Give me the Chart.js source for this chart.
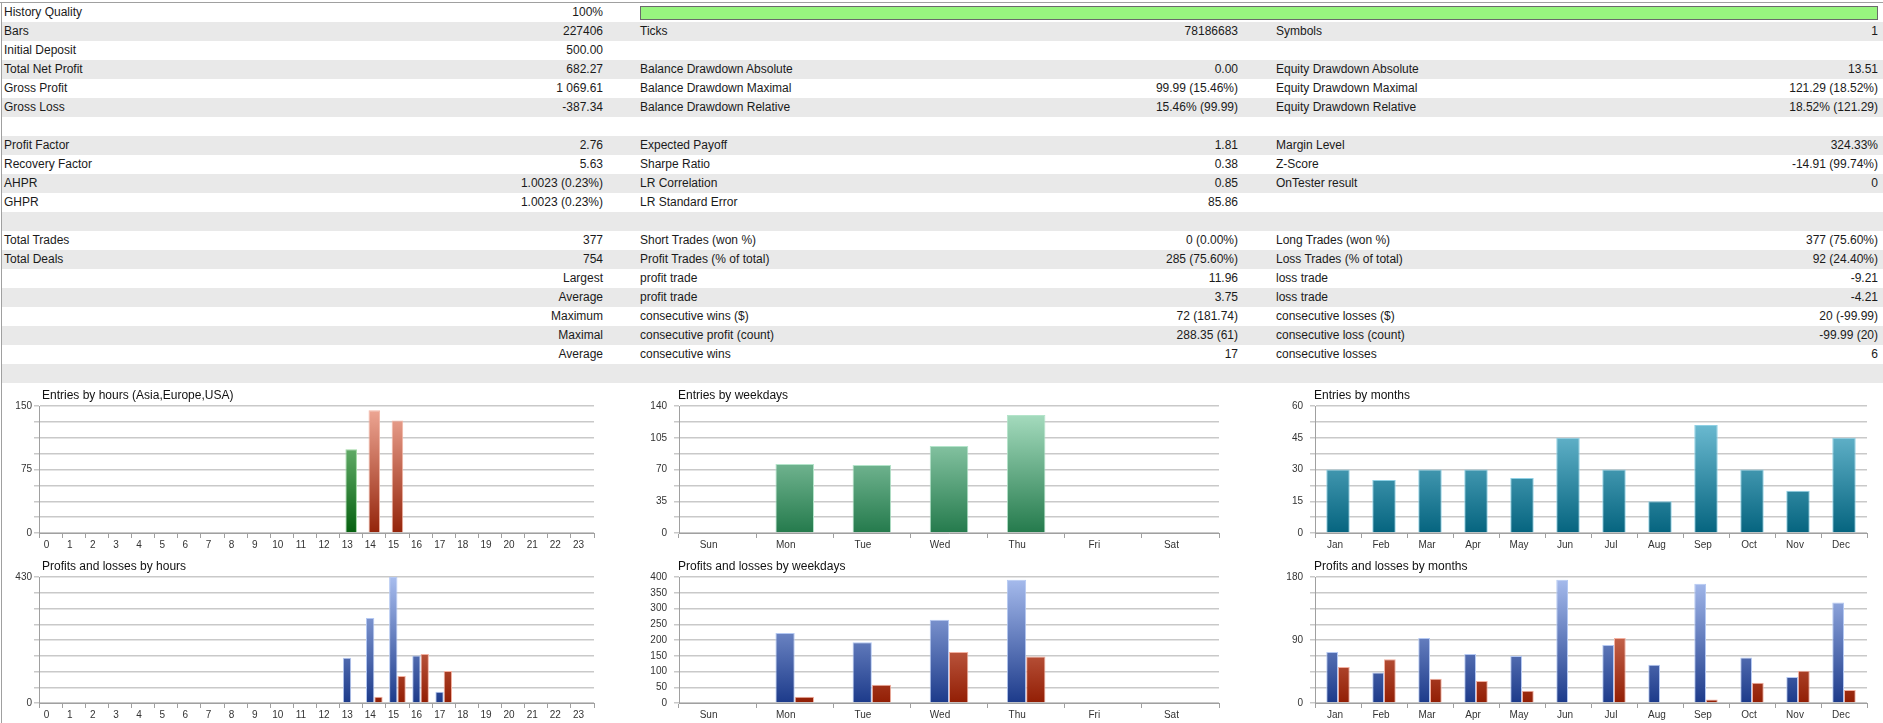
<!DOCTYPE html>
<html>
<head>
<meta charset="utf-8">
<title>Relatório do testador</title>
<script src="https://cdn.jsdelivr.net/npm/chart.js@4.4.1/dist/chart.umd.min.js"></script>
<style>
  body { margin: 0; width: 1883px; height: 723px; overflow: hidden; background: #fff; position: relative;
         font-family: "Liberation Sans", Arial, sans-serif; font-size: 12px; color: #1a1a1a; }
  #borda-topo { position: absolute; left: 0; top: 2px; width: 1883px; height: 1px; background: #a0a0a0; }
  #borda-esq { position: absolute; left: 1px; top: 2px; width: 1px; height: 721px; background: #a0a0a0; }
  .linha { position: absolute; left: 2px; width: 1881px; height: 19px; }
  .linha.cinza { background: #e9e9e9; }
  .cel { position: absolute; top: 0; line-height: 19px; white-space: nowrap; }
  .dir { text-align: right; }
  #qualidade { position: absolute; left: 640px; top: 6px; width: 1236px; height: 12px; background: #98f57f; border: 1px solid #6a6a6a; }
  canvas { position: absolute; }
</style>
</head>
<body>
<div id="tabela"></div>
<div id="borda-topo"></div>
<div id="borda-esq"></div>

<canvas id="grafico-entradas-horas"></canvas>
<canvas id="grafico-entradas-dias"></canvas>
<canvas id="grafico-entradas-meses"></canvas>
<canvas id="grafico-lucro-horas"></canvas>
<canvas id="grafico-lucro-dias"></canvas>
<canvas id="grafico-lucro-meses"></canvas>

<script>
const horas = ['0','1','2','3','4','5','6','7','8','9','10','11','12','13','14','15','16','17','18','19','20','21','22','23'];
const diasSemana = ['Sun','Mon','Tue','Wed','Thu','Fri','Sat'];
const meses = ['Jan','Feb','Mar','Apr','May','Jun','Jul','Aug','Sep','Oct','Nov','Dec'];

const entradasHoras = [0,0,0,0,0,0,0,0,0,0,0,0,0,99,145,133,0,0,0,0,0,0,0,0];
const entradasDias = [0,76,75,96,130,0,0];
const entradasMeses = [30,25,30,30,26,45,30,15,51,30,20,45];

const lucroHoras = [0,0,0,0,0,0,0,0,0,0,0,0,0,154,290,430,162,38,0,0,0,0,0,0];
const perdaHoras = [0,0,0,0,0,0,0,0,0,0,0,0,0,0,21,92,167,109,0,0,0,0,0,0];
const lucroDias = [0,222,193,264,391,0,0];
const perdaDias = [0,20,58,162,148,0,0];
const lucroMeses = [73,43.5,93,70,67,176,83,54.5,170.5,65,37,143.5];
const perdaMeses = [51.5,62.5,34.5,31.5,17.5,0,93,0,5,29,46,18.5];

// eixos: máximo e rótulos mostrados
const maxY = { entradasHoras: 150, entradasDias: 140, entradasMeses: 60, lucroHoras: 430, lucroDias: 400, lucroMeses: 180 };
const rotulosEntradasHoras = [0, 75, 150];
const rotulosEntradasDias = [0, 35, 70, 105, 140];
const rotulosEntradasMeses = [0, 15, 30, 45, 60];
const rotulosLucroHoras = [0, 430];
const rotulosLucroDias = [0, 50, 100, 150, 200, 250, 300, 350, 400];
const rotulosLucroMeses = [0, 90, 180];

// tabela de estatísticas
const linhasTabela = [
  ['History Quality', '100%', null],
  ['Bars', '227406', 'Ticks', '78186683', 'Symbols', '1'],
  ['Initial Deposit', '500.00', '', '', '', ''],
  ['Total Net Profit', '682.27', 'Balance Drawdown Absolute', '0.00', 'Equity Drawdown Absolute', '13.51'],
  ['Gross Profit', '1 069.61', 'Balance Drawdown Maximal', '99.99 (15.46%)', 'Equity Drawdown Maximal', '121.29 (18.52%)'],
  ['Gross Loss', '-387.34', 'Balance Drawdown Relative', '15.46% (99.99)', 'Equity Drawdown Relative', '18.52% (121.29)'],
  ['', '', '', '', '', ''],
  ['Profit Factor', '2.76', 'Expected Payoff', '1.81', 'Margin Level', '324.33%'],
  ['Recovery Factor', '5.63', 'Sharpe Ratio', '0.38', 'Z-Score', '-14.91 (99.74%)'],
  ['AHPR', '1.0023 (0.23%)', 'LR Correlation', '0.85', 'OnTester result', '0'],
  ['GHPR', '1.0023 (0.23%)', 'LR Standard Error', '85.86', '', ''],
  ['', '', '', '', '', ''],
  ['Total Trades', '377', 'Short Trades (won %)', '0 (0.00%)', 'Long Trades (won %)', '377 (75.60%)'],
  ['Total Deals', '754', 'Profit Trades (% of total)', '285 (75.60%)', 'Loss Trades (% of total)', '92 (24.40%)'],
  ['', 'Largest', 'profit trade', '11.96', 'loss trade', '-9.21'],
  ['', 'Average', 'profit trade', '3.75', 'loss trade', '-4.21'],
  ['', 'Maximum', 'consecutive wins ($)', '72 (181.74)', 'consecutive losses ($)', '20 (-99.99)'],
  ['', 'Maximal', 'consecutive profit (count)', '288.35 (61)', 'consecutive loss (count)', '-99.99 (20)'],
  ['', 'Average', 'consecutive wins', '17', 'consecutive losses', '6'],
  ['', '', '', '', '', '']
];

// colunas: [left, width, alinhar à direita]
const colunas = [[2, 300, false], [298, 303, true], [638, 300, false], [1000, 236, true], [1274, 300, false], [1600, 276, true]];

const tabela = document.getElementById('tabela');
linhasTabela.forEach(function(linha, i) {
  const div = document.createElement('div');
  div.className = 'linha' + (i % 2 === 1 ? ' cinza' : '');
  div.style.top = (3 + i * 19) + 'px';
  linha.forEach(function(txt, j) {
    if (txt === null) {
      const barra = document.createElement('div');
      barra.id = 'qualidade';
      barra.style.left = '638px';
      barra.style.top = '3px';
      div.appendChild(barra);
      return;
    }
    if (!txt) return;
    const c = colunas[j];
    const cel = document.createElement('div');
    cel.className = 'cel' + (c[2] ? ' dir' : '');
    cel.style.left = c[0] + 'px';
    cel.style.width = c[1] + 'px';
    cel.textContent = txt;
    div.appendChild(cel);
  });
  tabela.appendChild(div);
});

// ---- gráficos ----
const fonte = '"Liberation Sans", Arial, sans-serif';

function gradiente(ctx, escuro, claro) {
  const area = ctx.chart.chartArea;
  if (!area) return escuro;
  const g = ctx.chart.ctx.createLinearGradient(0, area.bottom, 0, area.top);
  g.addColorStop(0, escuro);
  g.addColorStop(1, claro);
  return g;
}

// cores por sessão (Ásia, Europa, EUA)
function sessao(h) {
  if (h >= 14) return 'eua';
  if (h >= 8) return 'europa';
  return 'asia';
}
const coresSessao = {
  asia: ['#1e3c8c', '#a4b8ea', '#b4c6f0'],
  europa: ['#05600f', '#8fd093', '#9fd8a3'],
  eua: ['#94240a', '#f0aa98', '#f2b6a6']
};
const azul = ['#1c3a8a', '#a8bdee', '#b4c8f2'];
const vermelho = ['#921e04', '#f0a08a', '#f2b0a0'];
const verde = ['#247a4c', '#aee2c6', '#b4e4ca'];
const turquesa = ['#05647f', '#7cc8de', '#8ed0e4'];

const tituloPlugin = {
  id: 'tituloMT',
  afterDraw(chart, args, opts) {
    const c = chart.ctx, a = chart.chartArea;
    c.save();
    c.font = '12px ' + fonte;
    c.fillStyle = '#111';
    c.textBaseline = 'middle';
    c.textAlign = 'left';
    c.fillText(opts.texto, a.left + opts.dx, a.top - 10);
    c.restore();
  }
};

function escalas(yMax, rotulos, deslocRotulo, padY) {
  return {
    x: {
      offset: true,
      grid: { display: true, drawOnChartArea: false, drawTicks: true, tickLength: 5, color: '#a0a0a0', offset: true },
      border: { display: true, color: '#a0a0a0' },
      ticks: { color: '#333', font: { size: 10, family: fonte }, padding: 1, labelOffset: deslocRotulo, autoSkip: false, maxRotation: 0 },
      afterFit: function(s) { s.height = 20; }
    },
    y: {
      min: 0,
      max: yMax,
      grid: { color: '#c9c9c9', lineWidth: 1.5, tickLength: 5 },
      border: { display: true, color: '#a0a0a0' },
      ticks: {
        stepSize: yMax / 8,
        autoSkip: false,
        color: '#333',
        font: { size: 10, family: fonte },
        padding: padY,
        callback: function(v) {
          return rotulos.some(r => Math.abs(r - v) < 1e-6) ? String(v) : '';
        }
      },
      afterFit: function(s) { s.width = 40; }
    }
  };
}

// area = retângulo da área de plotagem na página
function criarGrafico(id, area, titulo, dxTitulo, labels, datasets, yMax, rotulos, deslocRotulo, padY) {
  const canvas = document.getElementById(id);
  const w = area.r - area.l + 50;
  const h = area.b - area.t + 24 + 20;
  canvas.width = w;
  canvas.height = h;
  canvas.style.left = (area.l - 40) + 'px';
  canvas.style.top = (area.t - 24) + 'px';
  return new Chart(canvas.getContext('2d'), {
    type: 'bar',
    data: { labels: labels, datasets: datasets },
    options: {
      responsive: false,
      animation: false,
      devicePixelRatio: 1,
      layout: { padding: { top: 24, right: 10, left: 0, bottom: 0 } },
      plugins: { legend: { display: false }, tooltip: { enabled: false }, tituloMT: { texto: titulo, dx: dxTitulo } },
      scales: escalas(yMax, rotulos, deslocRotulo, padY)
    },
    plugins: [tituloPlugin]
  });
}

function serie(valores, cores, extra) {
  return Object.assign({
    data: valores,
    backgroundColor: ctx => gradiente(ctx, cores[0], cores[1]),
    borderColor: cores[2],
    borderWidth: 1,
    borderSkipped: 'start'
  }, extra);
}

// Entradas por horas (cor da sessão em cada barra)
criarGrafico('grafico-entradas-horas', { l: 39, r: 594, t: 406, b: 533 }, 'Entries by hours (Asia,Europe,USA)', 3,
  horas, [{
    data: entradasHoras,
    backgroundColor: ctx => { const c = coresSessao[sessao(ctx.dataIndex)]; return gradiente(ctx, c[0], c[1]); },
    borderColor: ctx => coresSessao[sessao(ctx.dataIndex)][2],
    borderWidth: 1,
    borderSkipped: 'start',
    barPercentage: 0.5,
    categoryPercentage: 1
  }], maxY.entradasHoras, rotulosEntradasHoras, -4, 2);

criarGrafico('grafico-entradas-dias', { l: 679, r: 1219, t: 406, b: 533 }, 'Entries by weekdays', -1,
  diasSemana, [serie(entradasDias, verde, { barPercentage: 0.5, categoryPercentage: 1 })],
  maxY.entradasDias, rotulosEntradasDias, -9, 7);

criarGrafico('grafico-entradas-meses', { l: 1315, r: 1867, t: 406, b: 533 }, 'Entries by months', -1,
  meses, [serie(entradasMeses, turquesa, { barPercentage: 0.51, categoryPercentage: 1 })],
  maxY.entradasMeses, rotulosEntradasMeses, -3, 7);

criarGrafico('grafico-lucro-horas', { l: 39, r: 594, t: 577, b: 703 }, 'Profits and losses by hours', 3,
  horas, [
    serie(lucroHoras, azul, { barPercentage: 1, categoryPercentage: 0.72 }),
    serie(perdaHoras, vermelho, { barPercentage: 1, categoryPercentage: 0.72 })
  ], maxY.lucroHoras, rotulosLucroHoras, -4, 2);

criarGrafico('grafico-lucro-dias', { l: 679, r: 1219, t: 577, b: 703 }, 'Profits and losses by weekdays', -1,
  diasSemana, [
    serie(lucroDias, azul, { barPercentage: 1, categoryPercentage: 0.5 }),
    serie(perdaDias, vermelho, { barPercentage: 1, categoryPercentage: 0.5 })
  ], maxY.lucroDias, rotulosLucroDias, -9, 7);

criarGrafico('grafico-lucro-meses', { l: 1315, r: 1867, t: 577, b: 703 }, 'Profits and losses by months', -1,
  meses, [
    serie(lucroMeses, azul, { barPercentage: 1, categoryPercentage: 0.51 }),
    serie(perdaMeses, vermelho, { barPercentage: 1, categoryPercentage: 0.51 })
  ], maxY.lucroMeses, rotulosLucroMeses, -3, 7);
</script>
</body>
</html>
